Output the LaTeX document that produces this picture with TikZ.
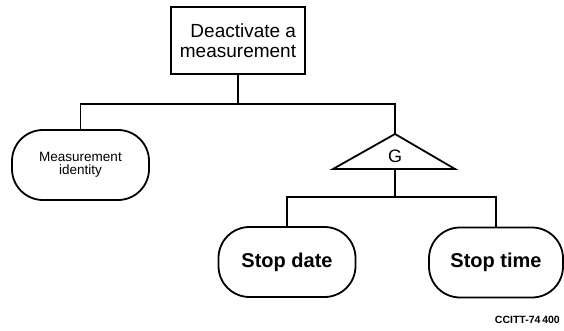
\documentclass[tikz,border=0pt]{standalone}
\usepackage{fontspec}
\setmainfont{Liberation Sans}

\begin{document}
\begin{tikzpicture}[x=1pt, y=-1pt, line width=1.8pt,
  topbox/.style={rectangle, draw, minimum width=134pt, minimum height=67pt, inner sep=0pt, align=right, font=\fontsize{19}{20}\selectfont},
  leaf/.style={rectangle, rounded corners=31pt, draw, minimum width=137pt, minimum height=70pt, inner sep=0pt}]
  \useasboundingbox (0,0) rectangle (564,331);
  \node [topbox] (deact) at (238,40.5) {Deactivate a\\measurement};
  \node [leaf, align=center, font=\fontsize{13.5}{13.5}\selectfont] (ident) at (80.5,165) {Measurement\\identity};
  \node [leaf, font=\bfseries\fontsize{20}{22}\selectfont] (sdate) at (287,262) {Stop date};
  \node [leaf, minimum width=134pt, font=\bfseries\fontsize{20}{22}\selectfont] (stime) at (496,262.5) {Stop time};
  \coordinate (gtop) at (395,134);
  \coordinate (gbase) at (395,169);
  \draw [line join=miter] (gtop) -- (333,169) -- (455,169) -- cycle;
  \node [font=\fontsize{18}{18}\selectfont] (gate) at (395,156) {G};
  \coordinate (busA) at (238,104);
  \coordinate (busB) at (395,197);
  \draw (deact) -- (busA);
  \draw (ident) |- (busA) -| (gtop);
  \draw (gbase) -- (busB);
  \draw (sdate) |- (busB) -| (stime);
  \node [anchor=east, font=\bfseries\fontsize{10.5}{12}\selectfont] (figref) at (564,320) {CCITT-74\,400};
\end{tikzpicture}
\end{document}
